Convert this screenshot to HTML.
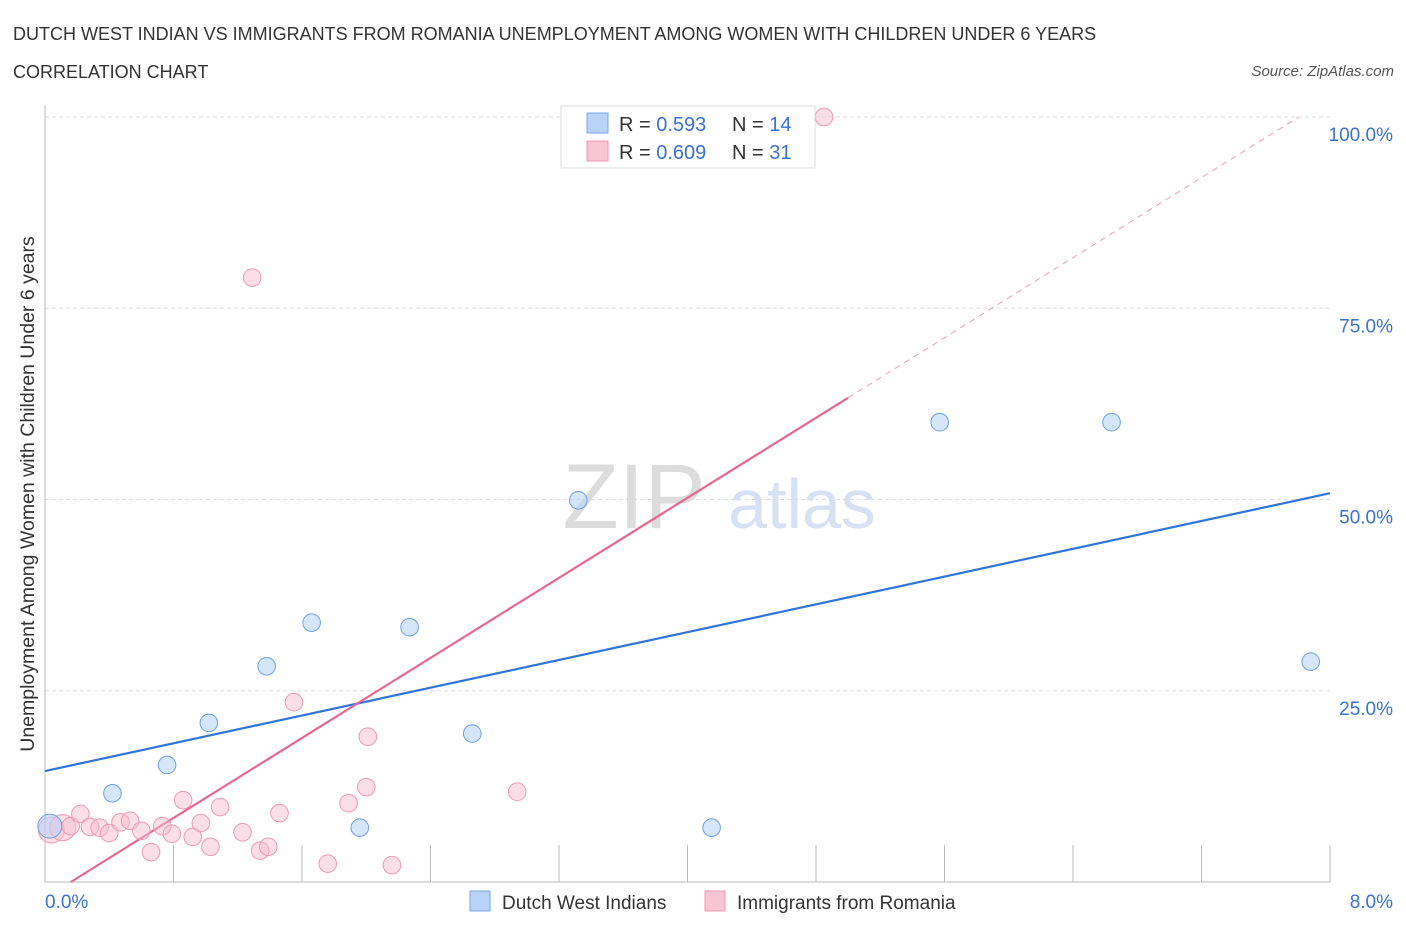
<!DOCTYPE html>
<html><head><meta charset="utf-8"><style>
body{margin:0;background:#fff;font-family:"Liberation Sans",sans-serif;}
svg text{font-family:"Liberation Sans",sans-serif;}
</style></head><body>
<svg id="chart" width="1406" height="930" xmlns="http://www.w3.org/2000/svg">
<text x="13" y="40" font-size="18" fill="#333">DUTCH WEST INDIAN VS IMMIGRANTS FROM ROMANIA UNEMPLOYMENT AMONG WOMEN WITH CHILDREN UNDER 6 YEARS</text>
<text x="13" y="78" font-size="18" fill="#333">CORRELATION CHART</text>
<text x="1394" y="76" font-size="15" fill="#555" font-style="italic" text-anchor="end">Source: ZipAtlas.com</text>
<text x="634" y="528" font-size="92" fill="#dcdcdc" text-anchor="middle" font-family="Liberation Serif">ZIP</text>
<text x="802" y="528" font-size="70" fill="#d6e2f3" text-anchor="middle">atlas</text>
<text transform="translate(34,494) rotate(-90)" font-size="19.5" fill="#333" text-anchor="middle">Unemployment Among Women with Children Under 6 years</text>
<g id="grid"></g><g id="axes"></g><g id="lines"></g><g id="pts"></g>
<g>
<rect x="561" y="106" width="254" height="62" fill="#fff" stroke="#ddd"/>
<rect x="587" y="113" width="21" height="20" fill="#b9d3f6" stroke="#7aa7e6"/>
<rect x="587" y="141" width="21" height="20" fill="#f9c5d5" stroke="#ec9ab4"/>
<text x="619" y="131" font-size="20" fill="#333">R = <tspan fill="#3a72d0">0.593</tspan></text>
<text x="732" y="131" font-size="20" fill="#333">N = <tspan fill="#3a72d0">14</tspan></text>
<text x="619" y="159" font-size="20" fill="#333">R = <tspan fill="#3a72d0">0.609</tspan></text>
<text x="732" y="159" font-size="20" fill="#333">N = <tspan fill="#3a72d0">31</tspan></text>
</g>
<g>
<rect x="470" y="891" width="20" height="20" fill="#b9d3f6" stroke="#7aa7e6"/>
<text x="502" y="909" font-size="19" fill="#333">Dutch West Indians</text>
<rect x="705" y="891" width="20" height="20" fill="#f9c5d5" stroke="#ec9ab4"/>
<text x="737" y="909" font-size="19" fill="#333">Immigrants from Romania</text>
</g>
</svg>
<script>
const blueX=[0.03,0.42,0.76,1.02,1.38,1.66,1.96,2.27,2.66,3.32,4.15,5.57,6.64,7.88];
const blueY=[7.3,11.6,15.3,20.8,28.2,33.9,7.1,33.3,19.4,49.9,7.1,60.1,60.1,28.8];
const pinkX=[0.04,0.11,0.16,0.22,0.28,0.34,0.40,0.47,0.53,0.60,0.66,0.73,0.79,0.86,0.92,0.97,1.03,1.09,1.23,1.29,1.34,1.39,1.46,1.55,1.76,1.89,2.00,2.01,2.16,2.94,4.85];
const pinkY=[6.8,7.1,7.3,8.9,7.2,7.1,6.4,7.8,8.0,6.7,3.9,7.3,6.3,10.7,5.9,7.7,4.6,9.8,6.5,79.0,4.1,4.6,9.0,23.5,2.4,10.3,12.4,19.0,2.2,11.8,100];
const blueTrend=[14.5,4.54]; // intercept, slope
const pinkTrend=[-2.1,13.08];
const yTicks=[25,50,75,100];
const yTickLabels=["25.0%","50.0%","75.0%","100.0%"];
const xTicks=[0,0.8,1.6,2.4,3.2,4.0,4.8,5.6,6.4,7.2,8.0];

const NS="http://www.w3.org/2000/svg";
const sx=v=>45+v/8*1285, sy=v=>882-v*7.65;
function mk(p,t,a){const e=document.createElementNS(NS,t);for(const k in a)e.setAttribute(k,a[k]);document.getElementById(p).appendChild(e);return e;}
yTicks.forEach((v,i)=>{
  const l=mk('grid','line',{x1:45,x2:1330,y1:sy(v),y2:sy(v),stroke:'#ddd','stroke-dasharray':'4,3'});
  
  
  const t=mk('grid','text',{x:1393,y:sy(v)+24,'font-size':19,fill:'#3a72d0','text-anchor':'end'});
  t.textContent=yTickLabels[i];
  
  
});
const ax=mk('axes','line',{x1:45,x2:1330,y1:882,y2:882,stroke:'#bbb'});


const ay=mk('axes','line',{x1:45,x2:45,y1:105,y2:882,stroke:'#bbb'});


xTicks.forEach(v=>{const t=mk('axes','line',{x1:sx(v),x2:sx(v),y1:845,y2:882,stroke:'#bbb'});
  
  });
const xl0=mk('axes','text',{x:45,y:908,'font-size':19,fill:'#3a72d0'});xl0.textContent='0.0%';


const xl1=mk('axes','text',{x:1393,y:908,'font-size':19,fill:'#3a72d0','text-anchor':'end'});xl1.textContent='8.0%';


const bl=mk('lines','line',{x1:sx(0),y1:sy(blueTrend[0]),x2:sx(8),y2:sy(blueTrend[0]+8*blueTrend[1]),stroke:'#2f74d8','stroke-width':2.2});


const p0=-pinkTrend[0]/pinkTrend[1], pEnd=(100-pinkTrend[0])/pinkTrend[1], pSolid=5.0;
const pl=mk('lines','line',{x1:sx(p0),y1:sy(0),x2:sx(pSolid),y2:sy(pinkTrend[0]+pSolid*pinkTrend[1]),stroke:'#e8668f','stroke-width':2.2});


const pd=mk('lines','line',{x1:sx(pSolid),y1:sy(pinkTrend[0]+pSolid*pinkTrend[1]),x2:sx(pEnd),y2:sy(100),stroke:'#eaa0b6','stroke-width':1,'stroke-dasharray':'6,5'});


pinkX.forEach((x,i)=>{const c=mk('pts','circle',{cx:sx(x),cy:sy(pinkY[i]),r:i<2?13:8.8,fill:'rgba(248,190,207,0.5)',stroke:'#ee9ab5','stroke-width':1});
  
  });
blueX.forEach((x,i)=>{const c=mk('pts','circle',{cx:sx(x),cy:sy(blueY[i]),r:i==0?12:8.8,fill:'rgba(185,211,246,0.6)',stroke:'#6fa0e4','stroke-width':1});
  
  });
</script>
</body></html>
